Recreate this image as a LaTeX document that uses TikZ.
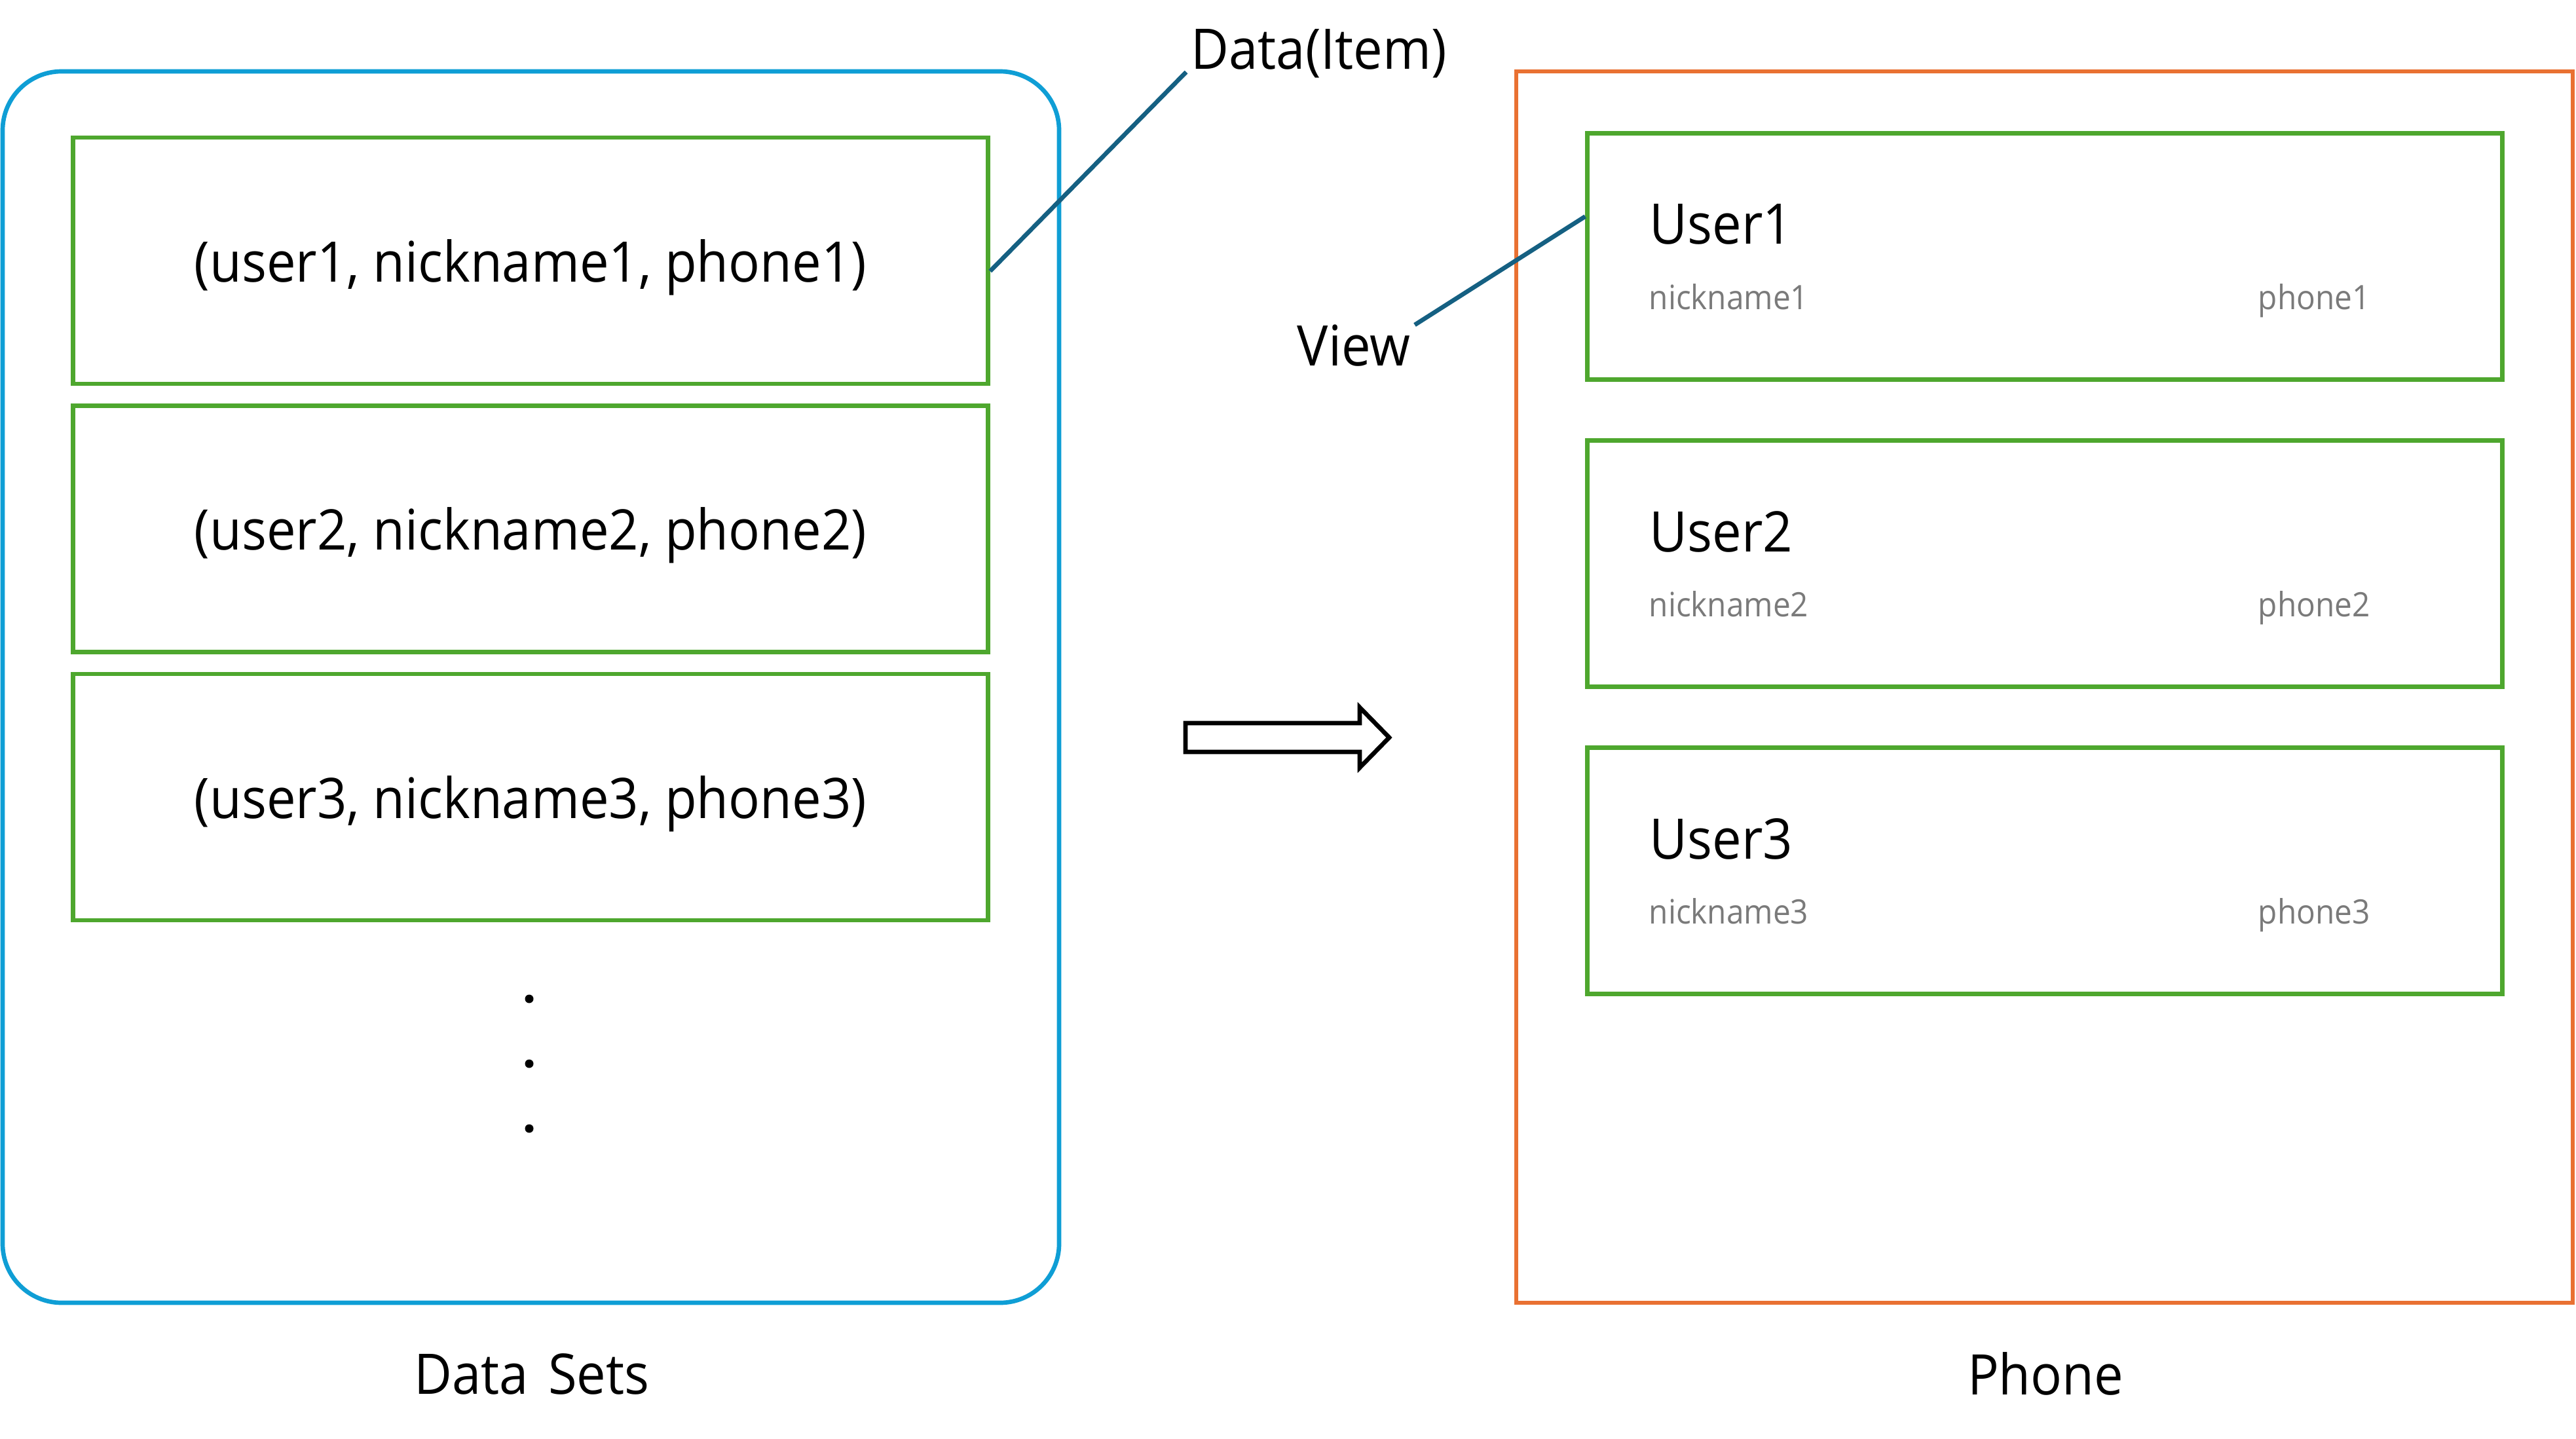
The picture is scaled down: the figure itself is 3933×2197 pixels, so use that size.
\documentclass[tikz,border=0pt]{standalone}
\usepackage{fontspec}
\setmainfont{Open Sans}[FakeStretch=0.93]
\definecolor{dsblue}{HTML}{0F9ED5}
\definecolor{phorange}{HTML}{E97132}
\definecolor{itemgreen}{HTML}{4EA72E}
\definecolor{calloutteal}{HTML}{156082}
\definecolor{subgray}{HTML}{7A7A7A}
\tikzset{
  itembox/.style={draw=itemgreen, line width=1.9pt, rectangle, inner sep=0pt,
    minimum width=13.96cm, minimum height=3.76cm},
  bigtext/.style={font=\fontsize{24.3pt}{29pt}\selectfont, inner sep=0pt, text=black},
  smalltext/.style={font=\fontsize{14.6pt}{17pt}\selectfont, inner sep=0pt, text=subgray},
  callout/.style={draw=calloutteal, line width=1.9pt},
  bigarrow/.style={draw=black, line width=1.9pt, fill=white, line join=miter},
}
\begin{document}
\begin{tikzpicture}[x=0.01cm, y=-0.01cm]
\useasboundingbox (0,0) rectangle (3933,2197);

% Data Sets container
\draw[dsblue, line width=1.9pt, rounded corners=0.9cm] (4,109) rectangle (1617,1989);
\node[bigtext, anchor=base] (dslabel) at (812,2128) {Data\hspace{0.1cm} Sets};

% Left data items
\node[itembox] (d1) at (810,398) {};
\node[itembox] (d2) at (810,807.5) {};
\node[itembox] (d3) at (810,1217) {};
\node[bigtext, anchor=base] (t1) at (810,430) {(user1, nickname1, phone1)};
\node[bigtext, anchor=base] (t2) at (810,839.5) {(user2, nickname2, phone2)};
\node[bigtext, anchor=base] (t3) at (810,1249) {(user3, nickname3, phone3)};

% dots
\fill[black] (808,1525) circle (0.065cm);
\fill[black] (808,1624) circle (0.065cm);
\fill[black] (808,1723) circle (0.065cm);

% Data(Item) callout
\node[bigtext, anchor=base west] (dataitem) at (1818,106) {Data(Item)};
\coordinate (diend) at (1811,110);
\draw[callout] (diend) -- ([yshift=-0.16cm]d1.east);

% Arrow
\draw[bigarrow] (1810,1104) -- (2076,1104) -- (2076,1080) -- (2121,1126)
  -- (2076,1172) -- (2076,1148) -- (1810,1148) -- cycle;

% Phone container
\draw[phorange, line width=1.9pt] (2315,109) rectangle (3928,1989);
\node[bigtext, anchor=base] (phlabel) at (3123,2129) {Phone};

% Right view items
\node[itembox] (v1) at (3122,391.5) {};
\node[itembox] (v2) at (3122,860.5) {};
\node[itembox] (v3) at (3122,1329.5) {};

\node[bigtext, anchor=base west] (u1) at (2518,373) {User1};
\node[smalltext, anchor=base west] (n1) at (2517,472) {nickname1};
\node[smalltext, anchor=base west] (p1) at (3447,472) {phone1};

\node[bigtext, anchor=base west] (u2) at (2518,842) {User2};
\node[smalltext, anchor=base west] (n2) at (2517,941) {nickname2};
\node[smalltext, anchor=base west] (p2) at (3447,941) {phone2};

\node[bigtext, anchor=base west] (u3) at (2518,1311) {User3};
\node[smalltext, anchor=base west] (n3) at (2517,1410) {nickname3};
\node[smalltext, anchor=base west] (p3) at (3447,1410) {phone3};

% View callout
\node[bigtext, anchor=base west] (viewlabel) at (1980,558) {View};
\coordinate (vwend) at (2160,496);
\draw[callout] (vwend) -- ([yshift=0.61cm]v1.west);
\end{tikzpicture}
\end{document}
